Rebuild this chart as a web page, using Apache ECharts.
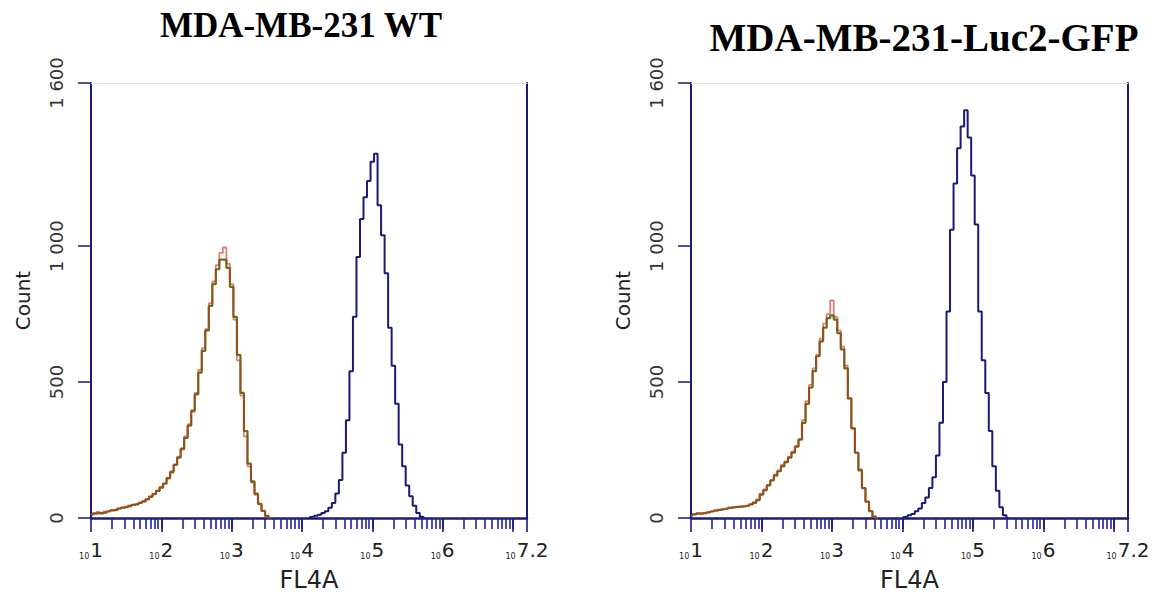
<!DOCTYPE html>
<html><head><meta charset="utf-8">
<script src="https://cdn.jsdelivr.net/npm/echarts@6/dist/echarts.min.js"></script>
<style>html,body{margin:0;padding:0;background:#fff}#c{width:1162px;height:601px}</style>
</head><body><div id="c"></div>
<script>
// ---------- data ----------
const panelTitles = ['MDA-MB-231 WT', 'MDA-MB-231-Luc2-GFP'];
const xLabelValues = [1, 2, 3, 4, 5, 6, 7.2];
const yTickValues = [0, 500, 1000, 1600];
const yTickLabels = ['0', '500', '1 000', '1 600'];
const binWidth = 0.05; // histogram channel width in decades

// Panel 1 (WT): log10 start of first bin + counts per bin
const wtRedStart = 1.0;
const wtRed = [15,18,22,16,24,26,30,28,36,38,42,46,48,52,56,62,70,80,90,100,114,128,148,172,198,226,252,300,345,390,460,545,625,695,790,870,930,975,995,935,860,730,580,450,300,190,130,85,50,25,6,0];
const wtGreenStart = 1.0;
const wtGreen = [12,16,18,18,20,24,28,30,34,38,40,44,48,50,56,60,68,78,88,100,112,126,146,168,195,222,255,295,340,395,455,535,615,690,780,860,915,950,950,920,850,740,600,460,320,200,135,90,52,26,8,0];
const wtBlueStart = 4.1;
const wtBlue = [3,5,8,12,18,25,38,55,90,140,240,360,540,740,960,1100,1180,1240,1310,1340,1150,1040,900,700,560,420,270,190,120,80,45,18,5,0];

// Panel 2 (Luc2-GFP)
const gfpRedStart = 1.0;
const gfpRed = [12,15,18,15,20,22,25,28,30,33,35,38,40,40,42,44,46,50,58,68,90,105,122,140,160,175,195,208,225,245,265,290,360,430,490,550,600,660,715,750,800,740,690,630,560,440,330,240,180,110,60,25,5,0];
const gfpGreenStart = 1.0;
const gfpGreen = [10,13,16,17,18,21,24,27,30,32,34,37,39,41,42,43,45,50,56,66,86,102,120,138,156,172,190,205,222,240,262,288,350,420,480,540,595,650,700,735,745,730,680,620,550,440,330,240,175,110,60,25,5,0];
const gfpBlueStart = 4.0;
const gfpBlue = [3,5,10,15,25,35,55,75,110,150,230,350,500,760,1060,1230,1360,1440,1500,1400,1260,1080,760,580,460,320,190,100,40,10,0];

// ---------- helpers ----------
function pairs(start, arr) { return arr.map((v, i) => [+(start + i * binWidth).toFixed(3), v]); }
const majorTicks = [1,2,3,4,5,6,7,7.2];
const minorTicks = [];
for (let d = 1; d <= 6; d++) for (let k = 2; k <= 10; k++) minorTicks.push(d + Math.log10(k));

const NAVY = '#1b1a78';
const FONT = 'DejaVu Sans';
const grids = [
  { left: 91, top: 83, width: 436, height: 435 },
  { left: 691, top: 83, width: 437, height: 435 }
];
const xAxis = [], yAxis = [], series = [], graphic = [];
const titleCenters = [[301, 25], [924, 37]];
const titleSizes = [35, 39];
const panelData = [
  [[wtGreenStart, wtGreen], [wtRedStart, wtRed], [wtBlueStart, wtBlue]],
  [[gfpGreenStart, gfpGreen], [gfpRedStart, gfpRed], [gfpBlueStart, gfpBlue]]
];
const colors = ['#4f7a1c', '#d8261e', NAVY];
const opac = [1, 0.6, 1];
const widths = [2.2, 1.8, 2];

for (let p = 0; p < 2; p++) {
  const xi = xAxis.length, yi = yAxis.length;
  xAxis.push({
    type: 'value', gridIndex: p, position: 'bottom', min: 1, max: 7.2,
    axisLine: { show: true, onZero: false, lineStyle: { color: NAVY, width: 2.5 } },
    axisTick: { show: true, customValues: minorTicks, length: 11, lineStyle: { color: '#2222a0', width: 1.6 } },
    axisLabel: {
      customValues: xLabelValues, margin: 22, color: '#222',
      formatter: v => '{s|10}{e|' + v + '}',
      rich: { s: { fontSize: 8, fontFamily: FONT, verticalAlign: 'bottom', padding: [8,1,0,0] }, e: { fontSize: 20, fontFamily: FONT } }
    },
    splitLine: { show: false },
    name: 'FL4A', nameLocation: 'middle', nameGap: 50,
    nameTextStyle: { fontFamily: FONT, fontSize: 24, color: '#222' }
  });
  xAxis.push({
    type: 'value', gridIndex: p, position: 'bottom', min: 1, max: 7.2,
    axisLine: { show: false, onZero: false },
    axisTick: { show: true, customValues: majorTicks, length: 14, lineStyle: { color: NAVY, width: 1.6 } },
    axisLabel: { show: false }, splitLine: { show: false }
  });
  xAxis.push({
    type: 'value', gridIndex: p, position: 'top', min: 1, max: 7.2,
    axisLine: { show: true, onZero: false, lineStyle: { color: '#e4e4e4', width: 1 } },
    axisTick: { show: false }, axisLabel: { show: false }, splitLine: { show: false }
  });
  yAxis.push({
    type: 'value', gridIndex: p, position: 'left', min: 0, max: 1600,
    axisLine: { show: true, onZero: false, lineStyle: { color: NAVY, width: 2 } },
    axisTick: { show: true, customValues: yTickValues, length: 13, lineStyle: { color: NAVY, width: 1.5 } },
    axisLabel: {
      customValues: yTickValues, rotate: 90, margin: 26, color: '#333',
      fontFamily: FONT, fontSize: 18,
      formatter: v => yTickLabels[yTickValues.indexOf(v)]
    },
    splitLine: { show: false },
    name: 'Count', nameLocation: 'middle', nameGap: 58, nameRotate: 90,
    nameTextStyle: { fontFamily: FONT, fontSize: 20, color: '#222' }
  });
  yAxis.push({
    type: 'value', gridIndex: p, position: 'right', min: 0, max: 1600,
    axisLine: { show: true, onZero: false, lineStyle: { color: NAVY, width: 2 } },
    axisTick: { show: false }, axisLabel: { show: false }, splitLine: { show: false }
  });
  panelData[p].forEach((d, s) => {
    series.push({
      type: 'line', xAxisIndex: xi, yAxisIndex: yi, step: 'middle',
      showSymbol: false, symbol: 'none', silent: true, z: 3 + s,
      lineStyle: { color: colors[s], width: widths[s], opacity: opac[s] },
      data: pairs(d[0], d[1])
    });
  });
  graphic.push({
    type: 'text', x: titleCenters[p][0], y: titleCenters[p][1],
    style: { text: panelTitles[p], font: 'bold ' + titleSizes[p] + 'px "Liberation Serif", "Times New Roman", serif',
      fill: '#000', textAlign: 'center', textVerticalAlign: 'middle' }
  });
}

const chart = echarts.init(document.getElementById('c'), null, { renderer: 'svg' });
chart.setOption({
  backgroundColor: '#ffffff',
  animation: false,
  grid: grids,
  xAxis, yAxis, series, graphic
});
</script>
</body></html>
